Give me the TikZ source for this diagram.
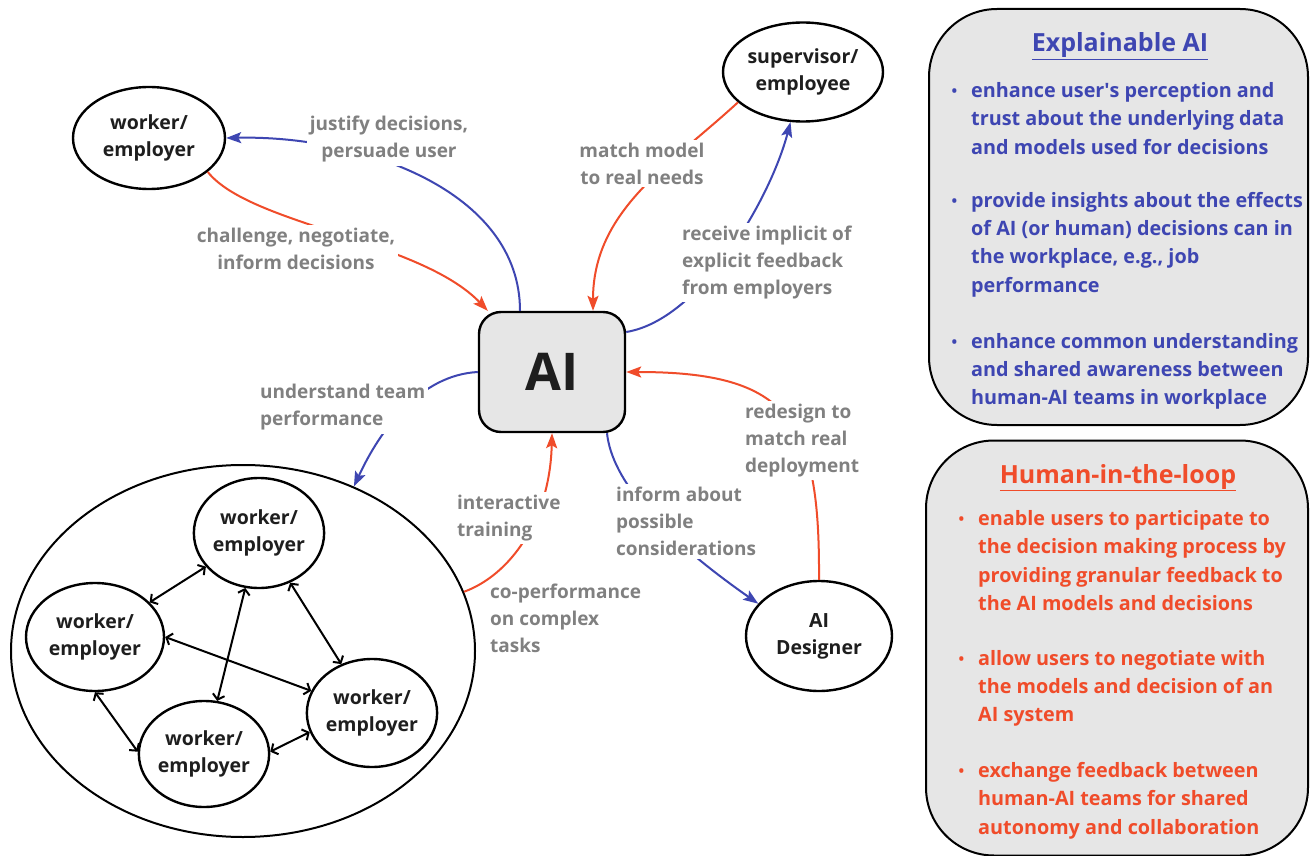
\documentclass[tikz,border=0pt]{standalone}
\usepackage{fontspec}
\setmainfont{Open Sans}
\usetikzlibrary{arrows.meta,calc,shapes.geometric}
\definecolor{xblue}{RGB}{62,70,178}
\definecolor{xred}{RGB}{240,76,42}
\definecolor{xgray}{RGB}{128,128,128}
\definecolor{xfill}{RGB}{230,230,230}
\definecolor{xink}{RGB}{30,30,30}
\newcommand\bul{\llap{\raisebox{1pt}{\fontsize{15}{15}\selectfont\textbullet}\hspace{14pt}}}
\tikzset{
  actor/.style={draw=black, line width=2.4pt, ellipse, inner sep=0pt, align=center,
    text=xink, font=\fontsize{19.5}{27}\selectfont\bfseries},
  lbl/.style={fill=white, inner sep=3pt, text=xgray, font=\fontsize{19}{27}\selectfont\bfseries},
  bluearr/.style={draw=xblue, line width=2pt, -{Stealth[length=15pt,width=11pt,inset=3pt]}},
  redarr/.style={draw=xred, line width=2pt, -{Stealth[length=15pt,width=11pt,inset=3pt]}},
  duo/.style={draw=black, line width=2pt, {Straight Barb[length=5pt,width=12pt]}-{Straight Barb[length=5pt,width=12pt]}},
  panel/.style={draw=black, line width=2pt, fill=xfill, rounded corners=68pt},
  ptitle/.style={anchor=base, font=\fontsize{25}{25}\selectfont\bfseries},
  pitem/.style={anchor=west, align=left, inner sep=0pt, font=\fontsize{19.8}{28.3}\selectfont\bfseries}
}
\begin{document}
\begin{tikzpicture}[x=1pt,y=-1pt]
\path[fill=white] (0,0) rectangle (1310,856);
\useasboundingbox (0,0) rectangle (1310,856);

% right panels
\node[panel, minimum width=379pt, minimum height=416pt] (xai) at (1118.5,217) {};
\node[panel, minimum width=382pt, minimum height=415pt] (hitl) at (1117,648) {};
\node[ptitle, text=xblue] (xaiT) at (1120,52) {\underline{Explainable AI}};
\node[ptitle, text=xred] (hitlT) at (1118,483) {\underline{Human-in-the-loop}};

\node[pitem, text=xblue] (x1) at (971,118.5) {\bul enhance user\textquotesingle s perception and\\trust about the underlying data\\and models used for decisions};
\node[pitem, text=xblue] (x2) at (971,244.5) {\bul provide insights about the effects\\of AI (or human) decisions can in\\the workplace, e.g., job\\performance};
\node[pitem, text=xblue] (x3) at (971,371.5) {\bul enhance common understanding\\and shared awareness between\\human-AI teams in workplace};

\node[pitem, text=xred] (h1) at (978,560.5) {\bul enable users to participate to\\the decision making process by\\providing granular feedback to\\the AI models and decisions};
\node[pitem, text=xred] (h2) at (978,688.5) {\bul allow users to negotiate with\\the models and decision of an\\AI system};
\node[pitem, text=xred] (h3) at (978,800.5) {\bul exchange feedback between\\human-AI teams for shared\\autonomy and collaboration};

% main nodes
\node[actor, minimum width=152pt, minimum height=102pt] (w0) at (149,138) {worker/\\employer};
\node[actor, minimum width=160pt, minimum height=99pt] (sup) at (803,72) {supervisor/\\employee};
\node[draw=black, line width=2.4pt, fill=xfill, rounded corners=22pt, minimum width=146pt, minimum height=120pt,
  text=xink, font=\fontsize{52}{52}\selectfont\bfseries] (AI) at (552,372) {AI};
\node[draw=black, line width=2pt, ellipse, minimum width=464pt, minimum height=372pt] (team) at (243,651) {};
\node[actor, minimum width=130pt, minimum height=110pt] (wt) at (259,533) {worker/\\employer};
\node[actor, minimum width=138pt, minimum height=108pt] (wl) at (95,637) {worker/\\employer};
\node[actor, minimum width=130pt, minimum height=106pt] (wb) at (204,754) {worker/\\employer};
\node[actor, minimum width=130pt, minimum height=108pt] (wr) at (372,713) {worker/\\employer};
\node[actor, minimum width=146pt, minimum height=110pt] (des) at (819,636) {AI\\Designer};

% connectors
\draw[bluearr] ($(AI.north)+(-32,0)$) .. controls (520,190) and (360,135) .. (w0.east);
\draw[redarr] (w0.-30) .. controls (250,225) and (420,240) .. ($(AI.north west)+(10,0)$);
\draw[redarr] (sup.-155) .. controls (670,165) and (593,210) .. ($(AI.north)+(41,0)$);
\draw[bluearr] ($(AI.east)+(0,-40)$) .. controls (700,320) and (770,200) .. (sup.-104);
\draw[bluearr] (AI.west) .. controls (420,375) and (380,430) .. (team.56);
\draw[redarr] (team.15) .. controls (510,575) and (550,520) .. (AI.south);
\draw[bluearr] ($(AI.south)+(55,0)$) .. controls (612,480) and (660,535) .. (des.152);
\draw[redarr] (des.north) .. controls (820,420) and (790,372) .. (AI.east);

\draw[duo] (wl) -- (wt);
\draw[duo] (wt) -- (wb);
\draw[duo] (wt) -- (wr);
\draw[duo] (wl.0) -- (wr.160);
\draw[duo] (wl.-90) -- (wb.178);
\draw[duo] (wb.2) -- (wr.-163);

% labels
\node[lbl, align=center] (lJust) at (389,139.5) {justify decisions,\\persuade user};
\node[lbl, align=center] (lChal) at (296,249) {challenge, negotiate,\\inform decisions};
\node[lbl, align=center] (lMatch) at (642,163.5) {match model\\to real needs};
\node[lbl, align=left, anchor=west] (lRecv) at (679,262.5) {receive implicit of\\explicit feedback\\from employers};
\node[lbl, align=left, anchor=west] (lUnd) at (257,407.5) {understand team\\performance};
\node[lbl, align=left, anchor=west] (lRed) at (742,440.5) {redesign to\\match real\\deployment};
\node[lbl, align=left, anchor=west] (lInt) at (454,518) {interactive\\training};
\node[lbl, align=left, anchor=west] (lInf) at (613,521.5) {inform about\\possible\\considerations};
\node[lbl, align=left, anchor=west] (lCo) at (487,618.5) {co-performance\\on complex\\tasks};
\end{tikzpicture}
\end{document}
